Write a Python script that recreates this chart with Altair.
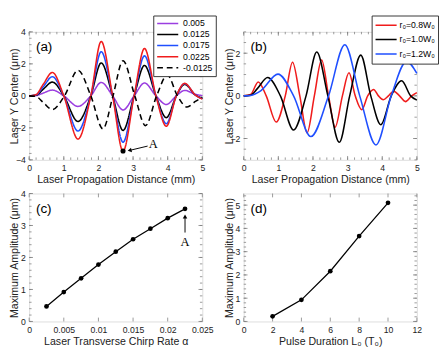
import altair as alt
import pandas as pd
import numpy as np

# ---------------- panel (a) data ----------------
a_x = [0, 0.2, 0.4, 0.67, 1.0, 1.41, 1.78, 2.08, 2.41, 2.71, 3.03, 3.33, 3.66, 3.96, 4.25, 4.49, 4.8, 5.0]
a_005 = [0, 0.02, 0.17, 0.36, 0, -0.66, 0, 0.84, 0, -0.88, 0, 0.80, 0, -0.54, 0, 0.34, 0.10, 0.02]
a_0125 = [0, 0.04, 0.40, 0.86, 0, -1.60, 0, 2.06, 0, -2.16, 0, 1.90, 0, -1.36, 0, 0.72, 0.05, -0.15]
a_0175 = [0, 0.06, 0.55, 1.20, 0, -2.20, 0, 2.76, 0, -2.90, 0, 2.50, 0, -1.74, 0, 0.76, 0.05, -0.18]
a_0225 = [0, 0.08, 0.70, 1.46, 0, -2.70, 0, 3.40, 0, -3.46, 0, 2.96, 0, -1.90, 0, 0.78, 0.05, -0.20]
a_neg_x = [0, 0.2, 0.4, 0.67, 1.02, 1.41, 1.78, 2.13, 2.42, 2.71, 3.05, 3.36, 3.68, 3.99, 4.28, 4.56, 4.8, 5.0]
a_neg = [0, -0.04, -0.40, -0.86, 0, 1.60, 0, -2.06, 0, 2.20, 0, -1.86, 0, 1.30, 0, -0.70, -0.35, -0.10]
a_names = ["0.005", "0.0125", "0.0175", "0.0225", "-0.0125"]
a_colors = ["#9b3ee0", "#000000", "#1f4fff", "#f01c1c", "#000000"]
a_dashes = [[1, 0], [1, 0], [1, 0], [1, 0], [6, 4]]
# annotation A in (a)
a_dot = (2.71, -3.45)
a_arrow = (3.42, -3.14, 2.9, -3.41)
a_label = (3.58, -3.05)

# ---------------- panel (b) data ----------------
b_08_x = [0, 0.2, 0.42, 0.65, 0.94, 1.2, 1.41, 1.62, 1.83, 2.04, 2.25, 2.45, 2.64, 2.85, 3.04, 3.22,
          3.41, 3.58, 3.75, 3.89, 4.03, 4.18, 4.33, 4.5, 4.67, 4.85, 5.0]
b_08 = [0, 0.06, 0.65, 0, -1.23, 0, 1.58, 0, -1.73, 0, 1.68, 0, -1.47, 0, 1.08, 0,
        -0.65, 0, 0.30, 0, -0.18, 0, 0.22, 0, -0.27, 0, 0.15]
b_10_x = [0, 0.2, 0.4, 0.69, 1.06, 1.44, 1.8, 2.11, 2.43, 2.76, 3.06, 3.38, 3.67, 3.96, 4.26, 4.56, 4.82, 5.0]
b_10 = [0, 0.03, 0.35, 0.86, 0, -1.60, 0, 2.06, 0, -2.18, 0, 1.91, 0, -1.35, 0, 0.71, 0, -0.20]
b_12_x = [0, 0.2, 0.5, 0.99, 1.44, 1.94, 2.45, 2.92, 3.35, 3.82, 4.26, 4.7, 5.0]
b_12 = [0, 0.02, 0.25, 1.02, 0, -1.91, 0, 2.40, 0, -2.30, 0, 1.61, 1.05]
b_names = ["r\u2080=0.8W\u2080", "r\u2080=1.0W\u2080", "r\u2080=1.2W\u2080"]
b_colors = ["#f01c1c", "#000000", "#1f4fff"]

# ---------------- panel (c) data ----------------
c_x = [0.0025, 0.005, 0.0075, 0.01, 0.0125, 0.015, 0.0175, 0.02, 0.0225]
c_y = [0.47, 0.92, 1.35, 1.78, 2.18, 2.57, 2.90, 3.23, 3.52]
c_arrow = (0.0225, 2.78, 3.28)
c_label = (0.0225, 2.48)

# ---------------- panel (d) data ----------------
d_x = [2, 4, 6, 8, 10]
d_y = [0.22, 0.93, 2.16, 3.67, 5.10]

# ---------------- styling ----------------
W, H = 180, 133
FONT = "Liberation Sans"
FRAME = "#808080"
TXT = "#222222"
MAJ, MIN = 4, 2.5


def xaxis(title, values, fmt=None):
    kw = dict(title=title, values=values, ticks=False, domain=False, grid=False,
              labelFontSize=9, labelPadding=4, labelColor=TXT, labelFlush=False,
              titleFontSize=11, titleFontWeight="normal", titleColor=TXT, titlePadding=2,
              labelFont=FONT, titleFont=FONT)
    if fmt:
        kw["format"] = fmt
    return alt.Axis(**kw)


def yaxis(title, values, fmt=None):
    kw = dict(title=title, values=values, ticks=False, domain=False, grid=False,
              labelFontSize=9, labelPadding=4, labelColor=TXT, labelFlush=False,
              titleFontSize=11, titleFontWeight="normal", titleColor=TXT,
              titleX=-21, titleBaseline="top", labelFont=FONT, titleFont=FONT)
    if fmt:
        kw["format"] = fmt
    return alt.Axis(**kw)


def tick_layers(X, Y, xmaj, xmin, ymaj, ymin):
    layers = []
    for vals, L in ((xmaj, MAJ), (xmin, MIN)):
        if len(vals):
            base = alt.Chart(pd.DataFrame({"x": vals})).mark_rule(color=FRAME, strokeWidth=0.8)
            layers.append(base.encode(x=X, y=alt.value(0), y2=alt.value(L)))
            layers.append(base.encode(x=X, y=alt.value(H), y2=alt.value(H - L)))
    for vals, L in ((ymaj, MAJ), (ymin, MIN)):
        if len(vals):
            base = alt.Chart(pd.DataFrame({"y": vals})).mark_rule(color=FRAME, strokeWidth=0.8)
            layers.append(base.encode(y=Y, x=alt.value(0), x2=alt.value(L)))
            layers.append(base.encode(y=Y, x=alt.value(W), x2=alt.value(W - L)))
    return layers


def panel_label(t):
    return alt.Chart(pd.DataFrame({"t": [t]})).mark_text(
        align="left", baseline="top", fontSize=14, font=FONT, color="#000"
    ).encode(x=alt.value(7), y=alt.value(9), text="t:N")


def long_df(series):
    rows = []
    for name, xs, ys in series:
        for i, (xv, yv) in enumerate(zip(xs, ys)):
            rows.append({"x": xv, "y": yv, "s": name, "o": i})
    return pd.DataFrame(rows)


def rng(a, b, step):
    return [round(v, 6) for v in np.arange(a, b + step / 2, step)]


# ---------------- panel (a) ----------------
XA = alt.X("x:Q", scale=alt.Scale(domain=[0, 5], nice=False, zero=False),
           axis=xaxis("Laser Propagation Distance (mm)", [0, 1, 2, 3, 4, 5]))
YA = alt.Y("y:Q", scale=alt.Scale(domain=[-4, 4], nice=False, zero=False),
           axis=yaxis("Laser Y Center (\u03bcm)", [-4, -2, 0, 2, 4]))
df_a = long_df([(a_names[0], a_x, a_005), (a_names[1], a_x, a_0125), (a_names[2], a_x, a_0175),
                (a_names[3], a_x, a_0225), (a_names[4], a_neg_x, a_neg)])
leg_a = dict(title=None, orient="none", legendX=129, legendY=-17, symbolType="stroke",
             symbolSize=480, symbolStrokeWidth=1.6, labelFontSize=9, labelFont=FONT,
             labelColor="#000", fillColor="white", strokeColor="#333", padding=3,
             rowPadding=0.5, clipHeight=10.5, labelOffset=4)
lines_a = alt.Chart(df_a).mark_line(interpolate="monotone", strokeWidth=1.6).encode(
    x=XA, y=YA,
    color=alt.Color("s:N", scale=alt.Scale(domain=a_names, range=a_colors), legend=alt.Legend(**leg_a)),
    strokeDash=alt.StrokeDash("s:N", scale=alt.Scale(domain=a_names, range=a_dashes),
                              legend=alt.Legend(**leg_a)),
    order="o:Q",
)
ann_a = pd.DataFrame({"x": [a_dot[0]], "y": [a_dot[1]]})
dot_a = alt.Chart(ann_a).mark_circle(size=28, color="#000", opacity=1).encode(x=XA, y=YA)
arr_a_df = pd.DataFrame({"x": [a_arrow[0]], "y": [a_arrow[1]], "x2": [a_arrow[2]], "y2": [a_arrow[3]]})
arr_a = alt.Chart(arr_a_df).mark_rule(color="#000", strokeWidth=1).encode(x=XA, y=YA, x2="x2:Q", y2="y2:Q")
head_a = alt.Chart(pd.DataFrame({"x": [a_arrow[2]], "y": [a_arrow[3]]})).mark_point(
    shape="triangle-up", filled=True, color="#000", size=22, angle=257, opacity=1).encode(x=XA, y=YA)
txt_a = alt.Chart(pd.DataFrame({"x": [a_label[0]], "y": [a_label[1]], "t": ["A"]})).mark_text(
    font="Liberation Serif", fontSize=13, color="#000").encode(x=XA, y=YA, text="t:N")
chart_a = alt.layer(
    *tick_layers(XA, YA, [0, 1, 2, 3, 4, 5], rng(0, 5, 0.2), [-4, -2, 0, 2, 4], rng(-4, 4, 0.4)),
    lines_a, arr_a, head_a, dot_a, txt_a, panel_label("(a)")
).properties(width=W, height=H)

# ---------------- panel (b) ----------------
XB = alt.X("x:Q", scale=alt.Scale(domain=[0, 5], nice=False, zero=False),
           axis=xaxis("Laser Propagation Distance (mm)", [0, 1, 2, 3, 4, 5]))
YB = alt.Y("y:Q", scale=alt.Scale(domain=[-3, 3], nice=False, zero=False),
           axis=yaxis("Laser Y Center (\u03bcm)", [-2, 0, 2]))
df_b = long_df([(b_names[0], b_08_x, b_08), (b_names[1], b_10_x, b_10), (b_names[2], b_12_x, b_12)])
lines_b = alt.Chart(df_b).mark_line(interpolate="monotone", strokeWidth=1.6).encode(
    x=XB, y=YB,
    color=alt.Color("s:N", scale=alt.Scale(domain=b_names, range=b_colors),
                    legend=alt.Legend(title=None, orient="none", legendX=133, legendY=-17,
                                      symbolType="stroke", symbolSize=480, symbolStrokeWidth=1.6,
                                      labelFontSize=9, labelFont=FONT, labelColor="#000",
                                      fillColor="white", strokeColor="#333", padding=3,
                                      rowPadding=1, clipHeight=14, labelOffset=2)),
    order="o:Q",
)
chart_b = alt.layer(
    *tick_layers(XB, YB, [0, 1, 2, 3, 4, 5], rng(0, 5, 0.2), [-2, 0, 2], rng(-3, 3, 0.5)),
    lines_b, panel_label("(b)")
).properties(width=W, height=H)

# ---------------- panel (c) ----------------
XC = alt.X("x:Q", scale=alt.Scale(domain=[0, 0.025], nice=False, zero=False),
           axis=xaxis("Laser Transverse Chirp Rate \u03b1", [0, 0.005, 0.01, 0.015, 0.02, 0.025], "~g"))
YC = alt.Y("y:Q", scale=alt.Scale(domain=[0, 4], nice=False, zero=False),
           axis=yaxis("Maximum Amplitude (\u03bcm)", [0, 1, 2, 3, 4]))
df_c = pd.DataFrame({"x": c_x, "y": c_y})
line_c = alt.Chart(df_c).mark_line(color="#000", strokeWidth=1.3).encode(x=XC, y=YC)
pts_c = alt.Chart(df_c).mark_circle(color="#000", size=24, opacity=1).encode(x=XC, y=YC)
arr_c = alt.Chart(pd.DataFrame({"x": [c_arrow[0]], "y": [c_arrow[1]], "y2": [c_arrow[2]]})).mark_rule(
    color="#000", strokeWidth=1).encode(x=XC, y=YC, y2="y2:Q")
head_c = alt.Chart(pd.DataFrame({"x": [c_arrow[0]], "y": [c_arrow[2]]})).mark_point(
    shape="triangle-up", filled=True, color="#000", size=22, opacity=1).encode(x=XC, y=YC)
txt_c = alt.Chart(pd.DataFrame({"x": [c_label[0]], "y": [c_label[1]], "t": ["A"]})).mark_text(
    font="Liberation Serif", fontSize=13, color="#000").encode(x=XC, y=YC, text="t:N")
chart_c = alt.layer(
    *tick_layers(XC, YC, [0, 0.005, 0.01, 0.015, 0.02, 0.025], [], [0, 1, 2, 3, 4], rng(0, 4, 0.2)),
    line_c, pts_c, arr_c, head_c, txt_c, panel_label("(c)")
).properties(width=W, height=H)

# ---------------- panel (d) ----------------
XD = alt.X("x:Q", scale=alt.Scale(domain=[0, 12], nice=False, zero=False),
           axis=xaxis("Pulse Duration L\u2080 (T\u2080)", [0, 2, 4, 6, 8, 10, 12]))
YD = alt.Y("y:Q", scale=alt.Scale(domain=[0, 5.5], nice=False, zero=False),
           axis=yaxis("Maximum Amplitude (\u03bcm)", [0, 1, 2, 3, 4, 5]))
df_d = pd.DataFrame({"x": d_x, "y": d_y})
line_d = alt.Chart(df_d).mark_line(color="#000", strokeWidth=1.3).encode(x=XD, y=YD)
pts_d = alt.Chart(df_d).mark_circle(color="#000", size=24, opacity=1).encode(x=XD, y=YD)
chart_d = alt.layer(
    *tick_layers(XD, YD, [0, 2, 4, 6, 8, 10, 12], [], [0, 1, 2, 3, 4, 5], rng(0, 5.4, 0.2)),
    line_d, pts_d, panel_label("(d)")
).properties(width=W, height=H)

chart = alt.concat(
    chart_a, chart_b, chart_c, chart_d, columns=2,
    spacing=alt.RowColnumber(row=35, column=43), bounds="flush", padding=0
).resolve_scale(
    x="independent", y="independent", color="independent", strokeDash="independent"
).resolve_legend(color="independent", strokeDash="independent").configure_view(
    stroke=FRAME, strokeWidth=1
).configure(background="white")

chart.save("out.html", embed_options={"renderer": "svg", "actions": False})
